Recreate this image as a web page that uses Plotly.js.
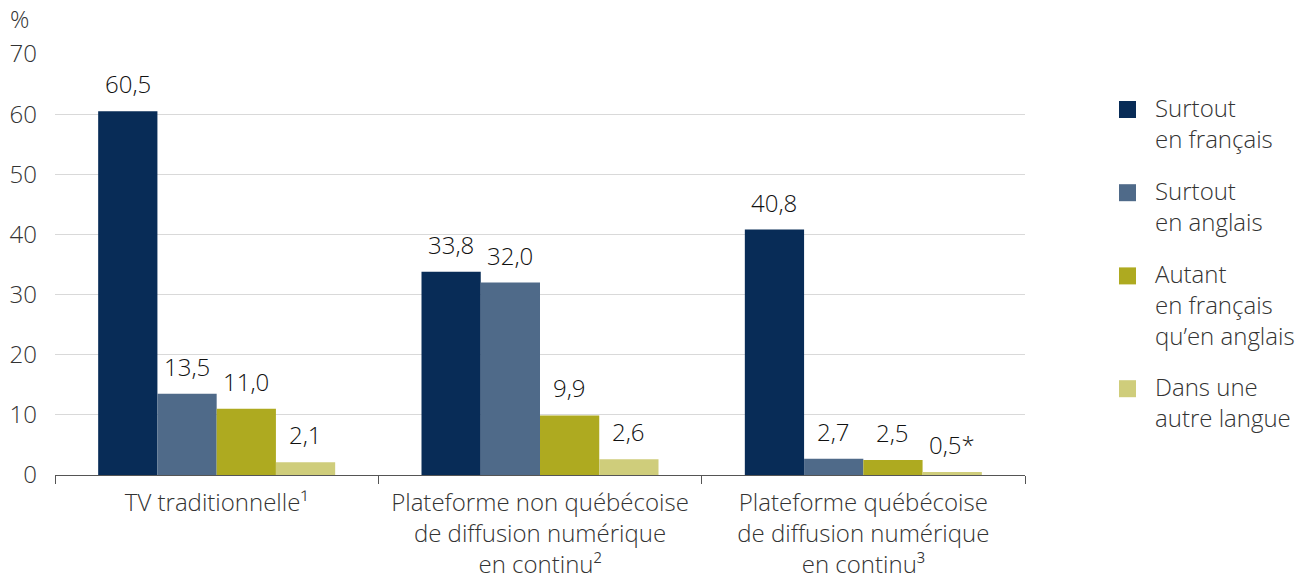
<!DOCTYPE html>
<html>
<head>
<meta charset="utf-8">
<script src="https://cdn.plot.ly/plotly-3.0.1.min.js"></script>
<style>html,body{margin:0;padding:0;background:#fff;}#chart{width:1304px;height:576px;}</style>
</head>
<body>
<div id="chart"></div>
<script>
// ---- Data ----
const categories = [
  'TV traditionnelle¹',
  'Plateforme non québécoise<br>de diffusion numérique<br>en continu²',
  'Plateforme québécoise<br>de diffusion numérique<br>en continu³'
];
const seriesNames = [
  'Surtout<br>en français',
  'Surtout<br>en anglais',
  'Autant<br>en français<br>qu’en anglais',
  'Dans une<br>autre langue'
];
const surtoutFrancais = [60.5, 33.8, 40.8];
const surtoutAnglais = [13.5, 32.0, 2.7];
const autantLesDeux = [11.0, 9.9, 2.5];
const autreLangue = [2.1, 2.6, 0.5];
const autreLangueNotes = ['', '', '*'];
const yTicks = [0, 10, 20, 30, 40, 50, 60, 70];

const seriesValues = [surtoutFrancais, surtoutAnglais, autantLesDeux, autreLangue];
const seriesNotes = [['', '', ''], ['', '', ''], ['', '', ''], autreLangueNotes];
const colors = ['#082c57', '#4f6a89', '#aeaa20', '#cfcd7b'];

// ---- Layout geometry ----
const W = 1304, H = 576;
const M = {l: 55, r: 279, t: 54, b: 101};
const pw = W - M.l - M.r, ph = H - M.t - M.b;
const bargap = 0.267;
const barPx = pw / categories.length * (1 - bargap) / seriesValues.length;
const px = x => (x - M.l) / pw;
const py = y => (H - M.b - y) / ph;

const fontFam = '"Open Sans", "Noto Sans", sans-serif';
const FS = 24;

const traces = seriesValues.map((vals, j) => ({
  type: 'bar',
  x: categories,
  y: vals,
  name: seriesNames[j],
  marker: {color: colors[j], line: {width: 0}},
  hoverinfo: 'skip',
  showlegend: false
}));

const fmt = v => v.toFixed(1).replace('.', ',');
const annotations = [];
seriesValues.forEach((vals, j) => {
  vals.forEach((v, i) => {
    annotations.push({
      x: categories[i], y: v, xref: 'x', yref: 'y',
      text: fmt(v) + seriesNotes[j][i],
      showarrow: false, xanchor: 'center', yanchor: 'bottom',
      xshift: (j - (seriesValues.length - 1) / 2) * barPx,
      yshift: 9,
      font: {family: fontFam, size: FS, color: '#111'}
    });
  });
});

// "%" unit label
annotations.push({
  xref: 'paper', yref: 'paper', x: 0, y: 1, xanchor: 'left', yanchor: 'bottom',
  xshift: -47, yshift: 17, text: '%', showarrow: false,
  font: {family: fontFam, size: FS, color: '#333', weight: 300}
});

// Custom legend
const shapes = [];
let itemTop = 101;
seriesNames.forEach((name, j) => {
  const lines = name.split('<br>').length;
  shapes.push({
    type: 'rect', xref: 'paper', yref: 'paper',
    x0: px(1119), x1: px(1136), y0: py(itemTop + 17), y1: py(itemTop),
    fillcolor: colors[j], line: {width: 0}
  });
  annotations.push({
    xref: 'paper', yref: 'paper', x: px(1153), y: py(itemTop - 12),
    xanchor: 'left', yanchor: 'top', align: 'left', showarrow: false,
    text: name,
    font: {family: fontFam, size: FS, color: '#333', weight: 300}
  });
  itemTop += lines * 29.6 + 24;
});

const layout = {
  width: W, height: H,
  margin: M,
  paper_bgcolor: '#fff', plot_bgcolor: '#fff',
  barmode: 'group', bargap: bargap, bargroupgap: 0,
  showlegend: false,
  font: {family: fontFam, size: FS, color: '#333', weight: 300},
  xaxis: {
    type: 'category',
    tickson: 'boundaries',
    ticks: 'outside', ticklen: 8, tickcolor: '#555', tickwidth: 1,
    showline: true, linecolor: '#555', linewidth: 1,
    showgrid: false, zeroline: false,
    ticklabelstandoff: 6,
    tickfont: {family: fontFam, size: FS, color: '#333', weight: 300},
    fixedrange: true
  },
  yaxis: {
    range: [0, 70],
    tickvals: yTicks,
    ticktext: yTicks.map(String),
    showgrid: true, gridcolor: '#d9d9d9', gridwidth: 1,
    zeroline: false, showline: false, ticks: '',
    ticklabelstandoff: 17,
    tickfont: {family: fontFam, size: FS, color: '#333', weight: 300},
    fixedrange: true
  },
  annotations: annotations,
  shapes: shapes
};

Plotly.newPlot('chart', traces, layout, {displayModeBar: false, staticPlot: true});
</script>
</body>
</html>
